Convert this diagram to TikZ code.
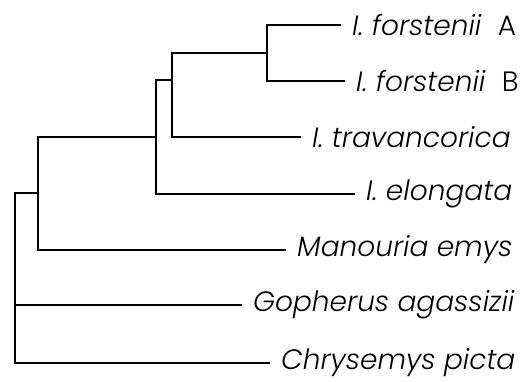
\documentclass[tikz,border=0pt]{standalone}
\usepackage{fontspec}
\setmainfont{Poppins}[UprightFont=* Light, ItalicFont=* Light Italic]
\begin{document}
\begin{tikzpicture}[x=1pt,y=-1pt,
  br/.style={line width=1.8pt,line cap=rect},
  leaf/.style={anchor=west,inner xsep=12pt,inner ysep=0pt,font=\fontsize{28}{30}\selectfont\itshape}]
\useasboundingbox (0,0) rectangle (527,382);
% internal nodes
\coordinate (r) at (15,193);
\coordinate (n1) at (38,193);
\coordinate (n2) at (156,137);
\coordinate (n3) at (172,80);
\coordinate (n4) at (267,53);
% leaves
\node[leaf] (fa) at (340,25) {I. forstenii\ \ {\upshape A}};
\node[leaf] (fb) at (344,81) {I. forstenii\ \ {\upshape B}};
\node[leaf] (tr) at (300,137) {I. travancorica};
\node[leaf] (el) at (354,194) {I. elongata};
\node[leaf] (me) at (285,250) {Manouria emys};
\node[leaf] (ga) at (241,305) {Gopherus agassizii};
\node[leaf] (cp) at (269,363) {Chrysemys picta};
% branches
\draw[br] (r |- ga) -- (r |- cp) -- (cp.west);
\draw[br] (r |- ga) -- (ga.west);
\draw[br] (r) -- (n1);
\draw[br] (n1 |- n2) -- (n1 |- me) -- (me.west);
\draw[br] (n1 |- n2) -- (n2);
\draw[br] (n2 |- n3) -- (n2 |- el) -- (el.west);
\draw[br] (n2 |- n3) -- (n3);
\draw[br] (n3 |- n4) -- (n3 |- tr) -- (tr.west);
\draw[br] (n3 |- n4) -- (n4);
\draw[br] (n4 |- fa) -- (n4 |- fb) -- (fb.west);
\draw[br] (n4 |- fa) -- (fa.west);
\draw[br] (r) -- (r |- ga);
\end{tikzpicture}
\end{document}
